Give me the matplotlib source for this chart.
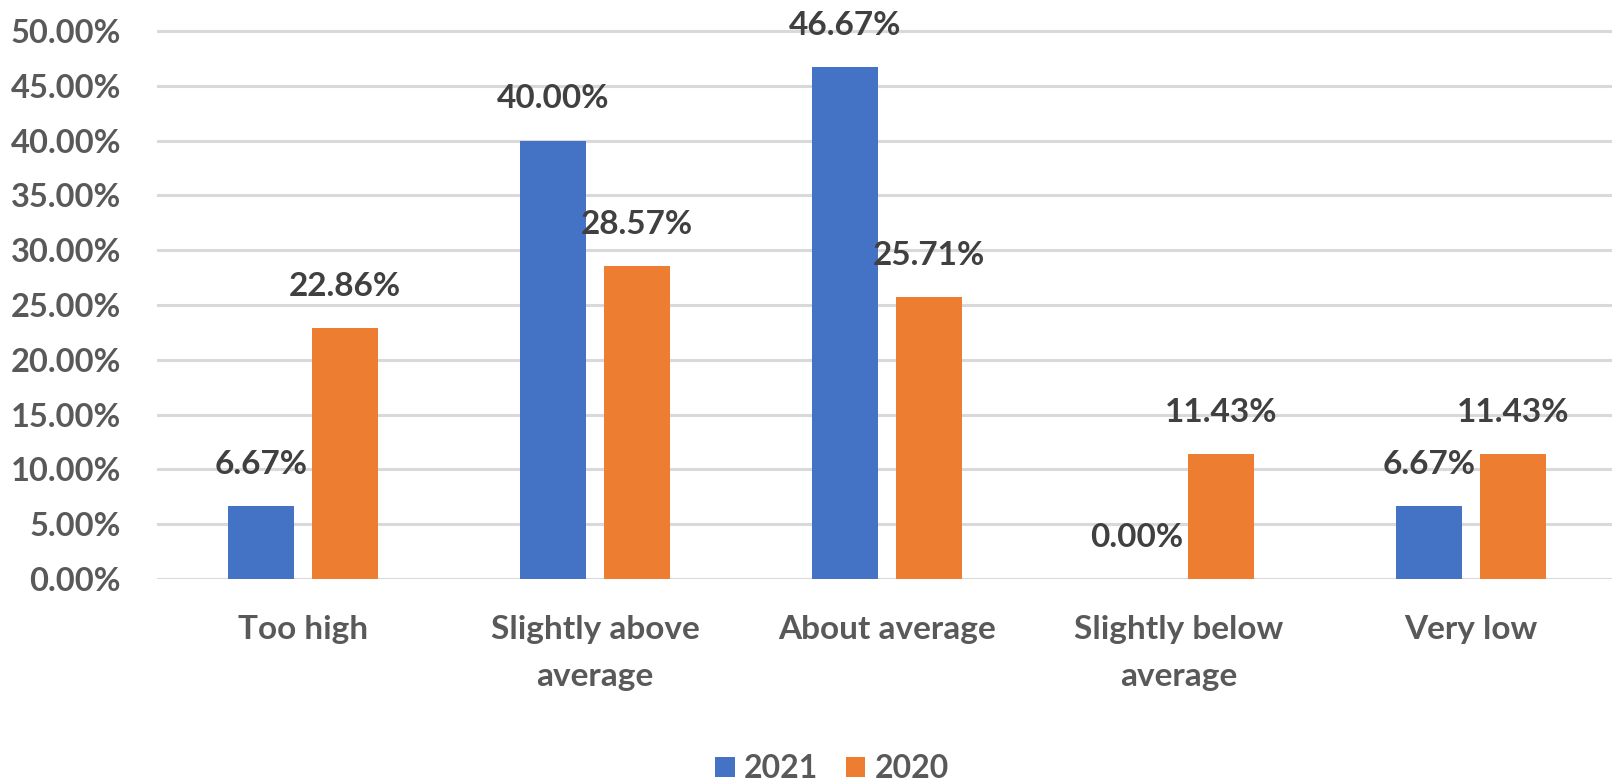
import matplotlib
matplotlib.use("Agg")
import matplotlib.pyplot as plt
import numpy as np
from matplotlib.ticker import PercentFormatter

categories = ["Too high", "Slightly above\naverage", "About average",
              "Slightly below\naverage", "Very low"]
vals_2021 = [6.67, 40.00, 46.67, 0.00, 6.67]
vals_2020 = [22.86, 28.57, 25.71, 11.43, 11.43]
yticks = [0, 5, 10, 15, 20, 25, 30, 35, 40, 45, 50]

blue = "#4472C4"
orange = "#ED7D31"
tick_col = "#595959"
label_col = "#404040"

plt.rcParams['font.family'] = ['Lato', 'DejaVu Sans']
plt.rcParams['font.weight'] = 'bold'

W, H = 1612, 782
fig = plt.figure(figsize=(W / 100, H / 100), dpi=100)
# axes placed in pixel terms: 0% at y=579, 5 categories over ~1460 px
ytop = 51.0
ppu = 548 / 50.0
ax = fig.add_axes([157 / W, 1 - 579 / H, 1460 / W, ytop * ppu / H])

x = np.arange(len(categories))
bw = 0.227
off = 0.144
b1 = ax.bar(x - off, vals_2021, bw, color=blue, label="2021", zorder=3)
b2 = ax.bar(x + off, vals_2020, bw, color=orange, label="2020", zorder=3)

for bars, vals in ((b1, vals_2021), (b2, vals_2020)):
    for r, v in zip(bars, vals):
        ax.annotate("%.2f%%" % v, (r.get_x() + r.get_width() / 2, v),
                    xytext=(0, 30), textcoords="offset points",
                    ha="center", va="center", fontsize=24,
                    fontweight="bold", color=label_col)

ax.set_xlim(-0.5, 4.5)
ax.set_ylim(0, ytop)
ax.set_yticks(yticks)
ax.yaxis.set_major_formatter(PercentFormatter(decimals=2))
ax.set_xticks(x)
ax.set_xticklabels(categories, linespacing=1.75)
ax.tick_params(axis="y", length=0, pad=26, labelsize=23.5, labelcolor=tick_col)
ax.tick_params(axis="x", length=0, pad=26, labelsize=24, labelcolor=tick_col)
ax.grid(axis="y", color="#D9D9D9", linewidth=2.2, zorder=0)
for s in ax.spines.values():
    s.set_visible(False)

leg = fig.legend(handles=[b1, b2], loc="center", bbox_to_anchor=(832 / W, 1 - 769 / H),
                 ncol=2, frameon=False, fontsize=23, handlelength=0.6,
                 handleheight=0.6, handletextpad=0.3, columnspacing=0.85,
                 labelcolor=tick_col)

fig.savefig("out.png", dpi=100)
